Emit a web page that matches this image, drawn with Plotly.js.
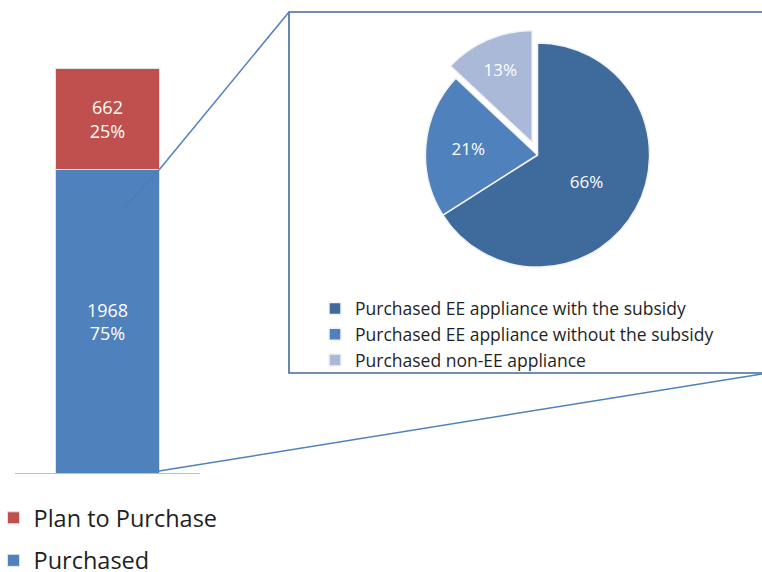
<!DOCTYPE html>
<html><head><meta charset="utf-8">
<script src="https://cdn.plot.ly/plotly-3.0.1.min.js"></script>
<style>html,body{margin:0;padding:0;background:#fff}#chart{width:762px;height:572px}</style>
</head><body><div id="chart"></div>
<script>
const barCategory = ['Total'];
const purchasedName = 'Purchased';
const planName = 'Plan to Purchase';
const purchasedValues = [1968];
const planValues = [662];
const pieLabels = ['Purchased EE appliance with the subsidy', 'Purchased EE appliance without the subsidy', 'Purchased non-EE appliance'];
const pieValues = [66, 21, 13];

const W = 762, H = 572;
const px = x => x / W, py = y => 1 - y / H;
const total = purchasedValues[0] + planValues[0];
const pct = v => Math.round(v / total * 100) + '%';
const FONT = 'Open Sans, sans-serif';

const traces = [
  {type: 'bar', x: barCategory, y: purchasedValues, name: purchasedName,
   marker: {color: '#4f81bd', line: {color: '#e3e3e3', width: 1}},
   text: purchasedValues.map(v => v + '<br>' + pct(v)), textposition: 'inside', insidetextanchor: 'middle',
   textfont: {color: '#ffffff', size: 18, family: FONT}, width: 0.56, hoverinfo: 'skip',
   legend: 'legend', legendgroup: 'p', legendrank: 2},
  {type: 'bar', x: barCategory, y: planValues, name: planName,
   marker: {color: '#c0504d', line: {color: '#e3e3e3', width: 1}},
   text: planValues.map(v => v + '<br>' + pct(v)), textposition: 'inside', insidetextanchor: 'middle',
   textfont: {color: '#ffffff', size: 18, family: FONT}, width: 0.56, hoverinfo: 'skip',
   legend: 'legend', legendgroup: 'q', legendrank: 1},
  {type: 'pie', labels: pieLabels, values: pieValues, sort: false, direction: 'clockwise', rotation: 0,
   pull: [0, 0, 0.12],
   marker: {colors: ['#3f6a9c', '#4f81bd', '#a9b9d7'], line: {color: '#f2f2f2', width: 1.5}},
   textinfo: 'percent', textposition: 'inside', insidetextorientation: 'horizontal',
   textfont: {color: '#ffffff', size: 17, family: FONT},
   domain: {x: [px(412), px(663)], y: [py(281), py(29)]},
   legend: 'legend2', hoverinfo: 'label+percent'}
];

const lineBlue = '#4f81bd';
const layout = {
  width: W, height: H, margin: {l: 0, r: 0, t: 0, b: 0, autoexpand: false},
  paper_bgcolor: '#ffffff', plot_bgcolor: '#ffffff',
  barmode: 'stack', showlegend: true,
  font: {family: FONT, color: '#1f1f1f'},
  xaxis: {domain: [px(15), px(200)], showline: true, linecolor: '#bfbfbf', linewidth: 1,
          showticklabels: false, ticks: '', showgrid: false, zeroline: false, fixedrange: true},
  yaxis: {domain: [py(473), py(68)], range: [0, total], visible: false, fixedrange: true},
  legend: {x: px(-6.5), y: py(496), xanchor: 'left', yanchor: 'top', font: {size: 23.5, family: FONT, color: '#1f1f1f'},
           traceorder: 'grouped', tracegroupgap: 9, bgcolor: 'rgba(0,0,0,0)'},
  legend2: {x: px(315), y: py(290.5), xanchor: 'left', yanchor: 'top', font: {size: 17.5, family: FONT, color: '#1f1f1f'},
            traceorder: 'normal', bgcolor: 'rgba(0,0,0,0)', tracegroupgap: 0},
  shapes: [
    {type: 'rect', xref: 'paper', yref: 'paper', x0: px(289), x1: px(780), y0: py(373), y1: py(12),
     line: {color: '#41699c', width: 1.6}, fillcolor: 'rgba(0,0,0,0)'},
    {type: 'line', xref: 'paper', yref: 'paper', x0: px(159), y0: py(170), x1: px(289), y1: py(12),
     line: {color: lineBlue, width: 1.5}},
    {type: 'line', xref: 'paper', yref: 'paper', x0: px(122), y0: py(210), x1: px(159), y1: py(170),
     line: {color: '#4a7ab4', width: 1}},
    {type: 'line', xref: 'paper', yref: 'paper', x0: px(159), y0: py(471), x1: px(762), y1: py(374),
     line: {color: lineBlue, width: 1.5}}
  ]
};

Plotly.newPlot('chart', traces, layout, {displayModeBar: false, staticPlot: true});
</script>
</body></html>
